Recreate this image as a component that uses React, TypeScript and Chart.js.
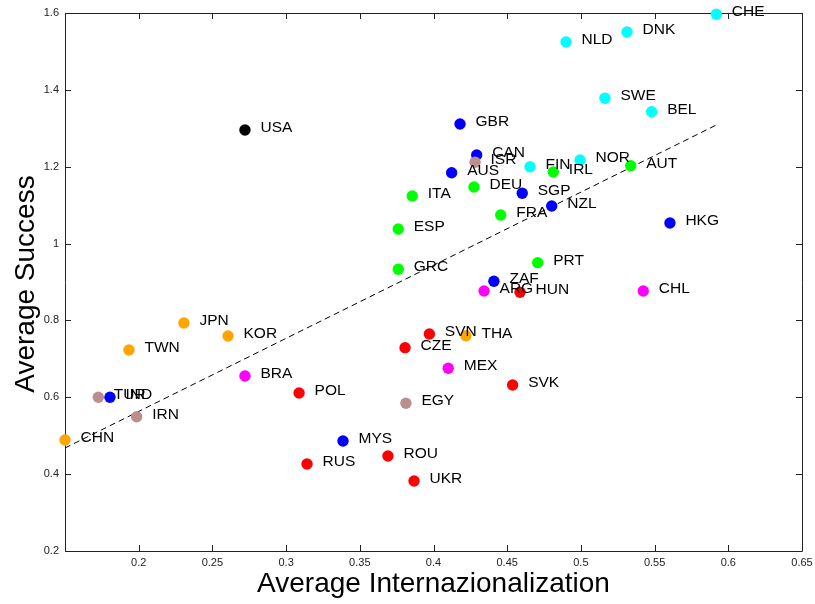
import React, { useEffect, useRef } from 'react';
import { Chart, registerables } from 'chart.js';

Chart.register(...registerables);

// ---- data ----
const COUNTRIES = ['CHE','DNK','NLD','SWE','BEL','FIN','NOR','USA','GBR','CAN','ISR','AUS','IRL','AUT','ITA','DEU','SGP','NZL','FRA','HKG','ESP','GRC','PRT','ZAF','ARG','HUN','CHL','JPN','KOR','TWN','SVN','THA','CZE','MEX','BRA','POL','SVK','EGY','TUR','IND','IRN','CHN','MYS','ROU','RUS','UKR'];
const INTERNATIONALIZATION = [0.5919,0.5313,0.4899,0.5163,0.548,0.4655,0.4994,0.2721,0.418,0.4293,0.4282,0.4123,0.4813,0.5338,0.3856,0.4275,0.4602,0.4802,0.4456,0.5604,0.3761,0.3761,0.4707,0.441,0.4343,0.4587,0.5423,0.2307,0.2606,0.1934,0.3972,0.422,0.3807,0.41,0.2721,0.3088,0.4537,0.3813,0.1726,0.1805,0.1986,0.15,0.3386,0.3691,0.3142,0.3868];
const SUCCESS = [1.5969,1.5506,1.5245,1.378,1.3432,1.2001,1.2175,1.2955,1.3112,1.2305,1.2115,1.1844,1.1863,1.2027,1.1238,1.1472,1.1308,1.0978,1.0744,1.0536,1.0379,0.9331,0.9503,0.9018,0.8766,0.8732,0.8766,0.7933,0.7595,0.7231,0.7647,0.7603,0.7291,0.6755,0.6554,0.6112,0.632,0.5844,0.6,0.6,0.5495,0.4889,0.4863,0.4473,0.4265,0.3822];
const GROUPS = ['c','c','c','c','c','c','c','k','b','b','br','b','g','g','g','g','b','b','g','b','g','g','g','b','m','r','m','o','o','o','r','o','r','m','m','r','r','br','br','b','br','o','b','r','r','r'];
const TREND_X = [0.15, 0.5919];
const TREND_Y = [0.4681, 1.3086];
const X_TICKS = [0.15, 0.2, 0.25, 0.3, 0.35, 0.4, 0.45, 0.5, 0.55, 0.6, 0.65];
const Y_TICKS = [0.2, 0.4, 0.6, 0.8, 1, 1.2, 1.4, 1.6];
const X_TITLE = 'Average Internazionalization';
const Y_TITLE = 'Average Success';

const GROUP_COLORS: Record<string, string> = {
  c: '#00FFFF', b: '#0000FF', g: '#00FF00', k: '#000000',
  br: '#BC8F8F', o: '#FFA500', m: '#FF00FF', r: '#FF0000',
};

const FONT = '"Liberation Sans", Arial, Helvetica, sans-serif';
const AXIS_COLOR = '#222222';

const frame = {
  id: 'frame',
  beforeDatasetsDraw(chart: any) {
    const { ctx, chartArea: a, scales } = chart;
    ctx.save();
    ctx.strokeStyle = AXIS_COLOR;
    ctx.lineWidth = 1;
    ctx.beginPath();
    ctx.rect(Math.round(a.left) + 0.5, Math.round(a.top) + 0.5, Math.round(a.right - a.left), Math.round(a.bottom - a.top));
    ctx.stroke();
    const tl = 6;
    ctx.beginPath();
    X_TICKS.forEach((v) => {
      const px = Math.round(scales.x.getPixelForValue(v)) + 0.5;
      ctx.moveTo(px, a.bottom); ctx.lineTo(px, a.bottom - tl);
      ctx.moveTo(px, a.top); ctx.lineTo(px, a.top + tl);
    });
    Y_TICKS.forEach((v) => {
      const py = Math.round(scales.y.getPixelForValue(v)) + 0.5;
      ctx.moveTo(a.left, py); ctx.lineTo(a.left + tl, py);
      ctx.moveTo(a.right, py); ctx.lineTo(a.right - tl, py);
    });
    ctx.stroke();
    ctx.restore();
  },
  afterDatasetsDraw(chart: any) {
    const { ctx } = chart;
    const meta = chart.getDatasetMeta(1);
    ctx.save();
    ctx.fillStyle = '#000';
    ctx.font = `15.5px ${FONT}`;
    ctx.textAlign = 'left';
    ctx.textBaseline = 'alphabetic';
    meta.data.forEach((pt: any, i: number) => {
      ctx.fillText(COUNTRIES[i], pt.x + 15.5, pt.y + 2);
    });
    ctx.restore();
  },
  afterDraw(chart: any) {
    const { ctx, chartArea: a } = chart;
    ctx.save();
    ctx.fillStyle = '#000';
    ctx.font = `28px ${FONT}`;
    ctx.textAlign = 'center';
    ctx.textBaseline = 'alphabetic';
    ctx.fillText(X_TITLE, (a.left + a.right) / 2, 592);
    ctx.translate(34, (a.top + a.bottom) / 2 + 2);
    ctx.rotate(-Math.PI / 2);
    ctx.fillText(Y_TITLE, 0, 0);
    ctx.restore();
  },
};

const fmt = (v: number) => String(Number(Number(v).toFixed(2)));

export default function App() {
  const ref = useRef<HTMLCanvasElement | null>(null);
  useEffect(() => {
    if (!ref.current) return;
    const points = COUNTRIES.map((_, i) => ({ x: INTERNATIONALIZATION[i], y: SUCCESS[i] }));
    const chart = new Chart(ref.current, {
      type: 'scatter',
      data: {
        datasets: [
          {
            type: 'line',
            data: TREND_X.map((x, i) => ({ x, y: TREND_Y[i] })),
            borderColor: '#000',
            borderWidth: 1,
            borderDash: [6, 4],
            pointRadius: 0,
            fill: false,
            order: 2,
            clip: false as any,
          } as any,
          {
            type: 'scatter',
            data: points,
            pointRadius: 5.7,
            pointBorderWidth: 0,
            pointBackgroundColor: GROUPS.map((g) => GROUP_COLORS[g]),
            pointBorderColor: GROUPS.map((g) => GROUP_COLORS[g]),
            order: 1,
            clip: false as any,
          } as any,
        ],
      },
      options: {
        animation: false,
        responsive: true,
        maintainAspectRatio: false,
        layout: { padding: { left: 0, top: 13, right: 13, bottom: 0 } },
        plugins: { legend: { display: false }, tooltip: { enabled: false } },
        events: [],
        scales: {
          x: {
            type: 'linear',
            min: 0.15,
            max: 0.65,
            grid: { display: false, drawTicks: false },
            border: { display: false },
            afterBuildTicks: (s: any) => { s.ticks = X_TICKS.map((v) => ({ value: v })); },
            afterFit: (s: any) => { s.height = 53; s.paddingLeft = 0; s.paddingRight = 0; },
            ticks: {
              padding: 5,
              maxRotation: 0,
              autoSkip: false,
              color: AXIS_COLOR,
              font: { family: FONT, size: 11 },
              callback: (v: any) => (Number(v) < 0.17 ? '' : fmt(v)),
            },
          },
          y: {
            type: 'linear',
            min: 0.2,
            max: 1.6,
            grid: { display: false, drawTicks: false },
            border: { display: false },
            afterBuildTicks: (s: any) => { s.ticks = Y_TICKS.map((v) => ({ value: v })); },
            afterFit: (s: any) => { s.width = 65; s.paddingTop = 0; s.paddingBottom = 0; },
            ticks: {
              padding: 6,
              autoSkip: false,
              color: AXIS_COLOR,
              font: { family: FONT, size: 11 },
              callback: (v: any) => fmt(v),
            },
          },
        },
      },
      plugins: [frame],
    });
    return () => chart.destroy();
  }, []);
  return (
    <div style={{ position: 'fixed', left: 0, top: 0, width: 815, height: 604, background: '#fff' }}>
      <canvas ref={ref} />
    </div>
  );
}
